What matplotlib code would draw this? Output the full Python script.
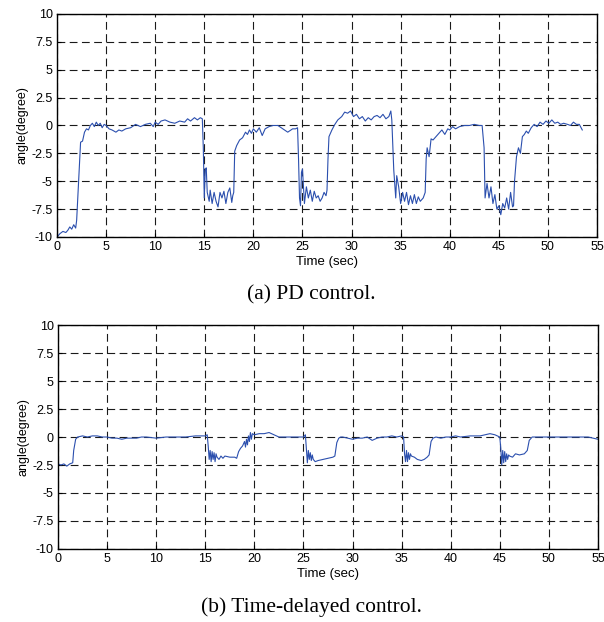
import matplotlib.pyplot as plt

# (a) PD control: time (sec), angle (degree)
t_pd = [0, 0.3, 0.6, 0.9, 1.1, 1.3, 1.5, 1.7, 1.9, 2.0, 2.2, 2.4, 2.6, 2.8, 3.0, 3.2, 3.4, 3.6, 3.8, 4.0,
        4.2, 4.4, 4.6, 4.8, 5.0, 5.3, 5.6, 6.0, 6.3, 6.6, 7.0, 7.5, 8.0, 8.5, 9.0, 9.5, 9.8, 10.0, 10.3, 10.6,
        11.0, 11.5, 12.0, 12.5, 13.0, 13.3, 13.6, 14.0, 14.3, 14.6, 14.8, 14.9, 15.0, 15.1, 15.2, 15.3, 15.5,
        15.6, 15.8, 16.0, 16.2, 16.4, 16.6, 16.8, 17.0, 17.2, 17.4, 17.6, 17.8, 17.9, 18.0, 18.1, 18.3, 18.6,
        18.9, 19.2, 19.4, 19.6, 19.8, 20.0, 20.3, 20.6, 20.9, 21.2, 21.6, 22.0, 22.5, 23.0, 23.5, 24.0, 24.3,
        24.5, 24.6, 24.7, 24.8, 24.9, 25.0, 25.2, 25.4, 25.6, 25.8, 26.0, 26.2, 26.4, 26.6, 26.8, 27.0, 27.2,
        27.4, 27.5, 27.6, 27.7, 28.0, 28.3, 28.6, 29.0, 29.3, 29.6, 29.9, 30.2, 30.5, 30.8, 31.1, 31.4, 31.7,
        32.0, 32.3, 32.6, 32.9, 33.2, 33.5, 33.8, 34.0, 34.1, 34.3, 34.5, 34.6, 34.8, 35.0, 35.2, 35.4, 35.6,
        35.8, 36.0, 36.2, 36.4, 36.6, 36.8, 37.0, 37.3, 37.5, 37.6, 37.7, 37.9, 38.1, 38.3, 38.6, 38.9, 39.2,
        39.5, 39.8, 40.0, 40.3, 40.6, 41.0, 41.5, 42.0, 42.5, 43.0, 43.3, 43.5, 43.6, 43.8, 44.0, 44.2, 44.4,
        44.6, 44.8, 45.0, 45.2, 45.4, 45.6, 45.8, 46.0, 46.2, 46.4, 46.5, 46.6, 46.8, 47.0, 47.2, 47.4, 47.6,
        47.8, 48.0, 48.3, 48.6, 48.9, 49.2, 49.5, 49.8, 50.1, 50.4, 50.7, 51.0, 51.3, 51.6, 52.0, 52.3, 52.6,
        52.9, 53.2, 53.5]
a_pd = [-10, -9.7, -9.5, -9.6, -9.4, -9.1, -9.3, -8.9, -9.2, -8.5, -5.0, -1.5, -1.4, -0.6, -0.3, -0.4, 0.0, 0.2, -0.1, 0.3,
        0.0, 0.2, -0.2, 0.1, 0.0, -0.3, -0.4, -0.6, -0.4, -0.5, -0.3, -0.2, 0.1, -0.1, 0.1, 0.2, -0.1, 0.3, 0.1, 0.4,
        0.5, 0.3, 0.2, 0.4, 0.3, 0.6, 0.4, 0.7, 0.5, 0.7, 0.6, -2.0, -6.5, -4.0, -3.8, -6.0, -6.8,
        -5.8, -7.0, -6.0, -6.8, -7.3, -6.0, -6.5, -5.9, -7.0, -6.0, -5.6, -6.9, -6.3, -6.0, -2.3, -1.8, -1.3,
        -1.1, -0.6, -0.8, -0.4, -0.7, -0.3, -0.6, -0.2, -0.9, -0.3, -0.1, 0.0, 0.0, -0.3, -0.6, -0.3, -0.3,
        -0.2, -3.0, -6.5, -7.2, -4.2, -3.9, -7.0, -5.5, -6.5, -5.8, -6.8, -5.9, -6.5, -6.3, -6.8, -6.5, -6.0,
        -6.3, -5.8, -3.0, -1.0, -0.4, 0.1, 0.5, 0.8, 1.2, 1.1, 1.3, 0.8, 1.0, 0.6, 0.8, 0.4, 0.7,
        0.5, 0.8, 0.9, 0.7, 1.0, 0.6, 0.8, 1.3, 0.5, -4.0, -6.5, -4.5, -5.5, -7.0, -6.0, -6.8, -6.0,
        -7.1, -6.3, -7.0, -6.2, -7.0, -6.4, -6.8, -6.5, -6.0, -3.0, -2.0, -2.8, -1.2, -1.3, -1.0, -0.7, -0.4,
        -0.8, -0.3, -0.4, -0.1, -0.3, -0.1, 0.0, 0.0, 0.1, 0.0, 0.0, -2.0, -6.5, -5.2, -6.5, -5.5, -7.0,
        -6.2, -7.5, -7.2, -8.0, -7.0, -7.4, -6.5, -7.5, -6.0, -7.3, -7.2, -5.0, -2.8, -2.0, -2.5, -1.0, -0.8,
        -0.5, -0.7, -0.2, 0.1, -0.1, 0.3, 0.1, 0.4, 0.2, 0.5, 0.2, 0.3, 0.1, 0.2, 0.1, 0.0, 0.3,
        0.1, 0.1, -0.4]

# (b) Time-delayed control
t_td = [0, 0.3, 0.6, 0.9, 1.2, 1.5, 1.6, 1.8, 2.0, 2.5, 3.0, 3.5, 4.0, 4.5, 5.0, 5.5, 6.0, 6.5, 7.0, 7.5,
        8.0, 8.5, 9.0, 10.0, 11.0, 12.0, 13.0, 14.0, 15.0, 15.2, 15.3, 15.4, 15.5, 15.6, 15.7, 15.8, 15.9,
        16.0, 16.1, 16.2, 16.4, 16.6, 16.8, 17.0, 17.5, 18.0, 18.2, 18.4, 18.6, 18.8, 19.0, 19.1, 19.2, 19.3,
        19.4, 19.5, 19.6, 19.7, 19.8, 20.0, 20.5, 21.0, 21.5, 22.0, 22.5, 23.0, 24.0, 25.0, 25.2, 25.3,
        25.4, 25.5, 25.6, 25.7, 25.8, 25.9, 26.0, 26.2, 26.5, 27.0, 27.5, 28.0, 28.2, 28.4, 28.6, 28.8,
        29.0, 29.5, 30.0, 30.5, 31.0, 31.5, 32.0, 32.5, 33.0, 33.5, 34.0, 34.5, 35.0, 35.2, 35.3, 35.4,
        35.5, 35.6, 35.7, 35.8, 35.9, 36.0, 36.3, 36.6, 37.0, 37.3, 37.6, 37.8, 38.0, 38.2, 38.5, 39.0,
        39.5, 40.0, 40.5, 41.0, 42.0, 43.0, 43.5, 44.0, 44.5, 45.0, 45.1, 45.2, 45.3, 45.4, 45.5, 45.6,
        45.7, 45.8, 45.9, 46.0, 46.3, 46.6, 47.0, 47.5, 47.8, 48.0, 48.3, 49.0, 50.0, 51.0, 52.0, 53.0,
        54.0, 55.0]
a_td = [-2.4, -2.5, -2.4, -2.6, -2.4, -2.3, -1.2, -0.2, 0.0, 0.1, 0.0, 0.1, 0.1, 0.0, 0.0, -0.1, -0.1, -0.2, -0.1, -0.1,
        -0.1, 0.0, 0.0, -0.1, 0.0, 0.0, 0.0, 0.1, 0.1, 0.2, -0.8, -2.0, -1.2, -2.2, -1.3, -2.0, -1.4,
        -2.2, -1.5, -1.8, -2.0, -1.7, -1.9, -1.7, -1.8, -1.8, -1.9, -1.3, -1.0, -0.8, -0.4, -0.9, -0.2, -0.7,
        0.1, -0.4, 0.4, -0.2, 0.3, 0.2, 0.3, 0.3, 0.4, 0.2, 0.0, 0.0, 0.0, 0.0, 0.2, -1.0,
        -2.3, -1.2, -2.0, -1.4, -2.1, -1.6, -2.0, -2.2, -2.1, -2.0, -1.9, -1.8, -1.7, -0.5, -0.1, 0.0,
        0.0, -0.1, -0.2, -0.1, -0.1, 0.0, -0.3, -0.1, 0.0, 0.0, 0.1, 0.0, 0.1, 0.0, -1.5, -2.2,
        -1.2, -2.2, -1.4, -2.0, -1.5, -1.7, -1.8, -2.0, -2.1, -2.0, -1.8, -1.6, -0.4, -0.1, 0.0, -0.1,
        0.0, 0.0, 0.1, 0.0, 0.1, 0.1, 0.2, 0.3, 0.2, 0.0, -1.0, -2.5, -1.2, -2.3, -1.3, -2.2,
        -1.5, -2.0, -1.6, -1.7, -1.8, -1.5, -1.6, -1.5, -1.2, -0.3, 0.0, 0.0, 0.0, 0.0, 0.0, 0.0,
        0.0, -0.2]

xticks = [0, 5, 10, 15, 20, 25, 30, 35, 40, 45, 50, 55]
yticks = [-10, -7.5, -5, -2.5, 0, 2.5, 5, 7.5, 10]
ytick_labels = ['-10', '-7.5', '-5', '-2.5', '0', '2.5', '5', '7.5', '10']
captions = ['(a) PD control.', '(b) Time-delayed control.']

plt.rcParams['font.family'] = ['Liberation Sans', 'DejaVu Sans']

fig = plt.figure(figsize=(6.04, 6.22), dpi=100)
ax1 = fig.add_axes([0.0944, 0.619, 0.894, 0.3585])
ax2 = fig.add_axes([0.0960, 0.1174, 0.894, 0.360])

for ax, t, a, cap in [(ax1, t_pd, a_pd, captions[0]), (ax2, t_td, a_td, captions[1])]:
    ax.plot(t, a, color='#2b4fae', lw=0.8)
    ax.set_xlim(0, 55)
    ax.set_ylim(-10, 10)
    ax.set_xticks(xticks)
    ax.set_yticks(yticks)
    ax.set_yticklabels(ytick_labels)
    ax.tick_params(direction='in', length=3, labelsize=9, pad=3)
    ax.grid(True, color='#1a1a1a', linestyle=(0, (7, 4)), linewidth=0.8)
    for s in ax.spines.values():
        s.set_linewidth(1.0)
    ax.set_xlabel('Time (sec)', fontsize=9.5, labelpad=2)
    ax.set_ylabel('angle(degree)', fontsize=9, labelpad=2)
    ax.text(0.47, -0.26, cap, transform=ax.transAxes, ha='center', va='center',
            fontsize=15.5, family=['Liberation Serif', 'DejaVu Serif'])

fig.savefig('out.png', dpi=100)
